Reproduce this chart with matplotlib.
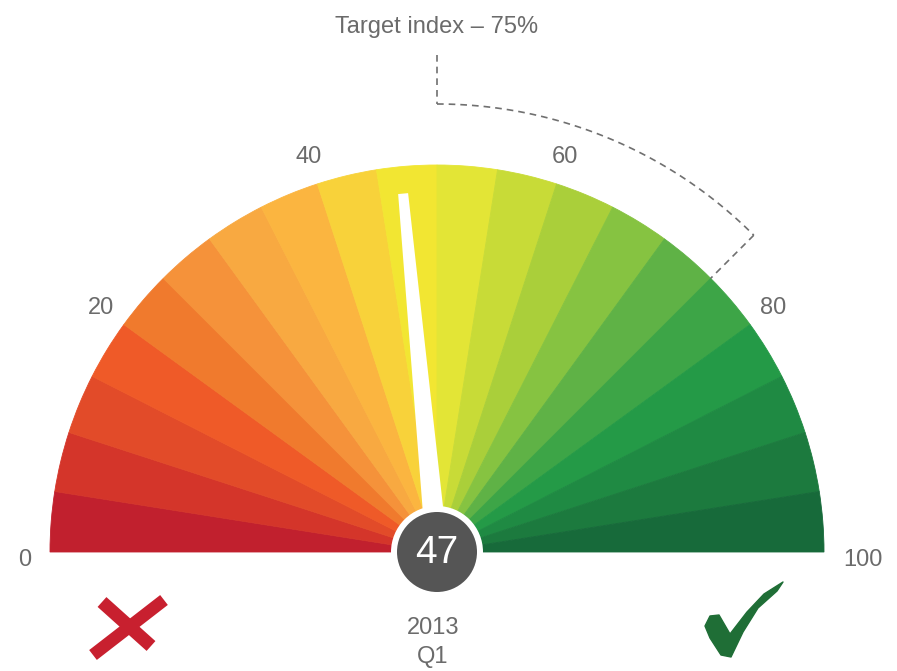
import numpy as np
import matplotlib
matplotlib.use("Agg")
import matplotlib.pyplot as plt
from matplotlib.patches import Wedge, Circle, Polygon

# gauge data
band_colors = [
    "#C1202E", "#D4352A", "#E24B29", "#EF5A28", "#F07A2D",
    "#F5923A", "#F8A941", "#FBB540", "#F8D23A", "#F2E632",
    "#E3E536", "#C8DB37", "#AACF3A", "#86C341", "#5FB246",
    "#3DA547", "#249A47", "#1F8A43", "#1C7A3E", "#176A3A",
]
tick_values = [0, 20, 40, 60, 80, 100]
current_value = 47
target_value = 75
title_text = "Target index \u2013 75%"
period_year = "2013"
period_quarter = "Q1"

W, H = 897, 671
cx, cy = 437, H - 552
R = 387
grey = "#6b6b6b"

plt.rcParams['font.family'] = ['Liberation Sans', 'DejaVu Sans']


def angle_of(v):
    # value 0 on the left, 100 on the right
    return 180.0 - v * 1.8


def point(v, r):
    a = np.deg2rad(angle_of(v))
    return cx + r * np.cos(a), cy + r * np.sin(a)


fig = plt.figure(figsize=(W / 100, H / 100), dpi=100)
ax = fig.add_axes([0, 0, 1, 1])
ax.set_xlim(0, W)
ax.set_ylim(0, H)
ax.set_aspect('equal')
ax.axis('off')

# coloured bands
step = 100 / len(band_colors)
for i, c in enumerate(band_colors):
    t2 = angle_of(i * step)
    t1 = angle_of((i + 1) * step)
    ax.add_patch(Wedge((cx, cy), R, t1, t2, facecolor=c, edgecolor=c, linewidth=0.6))

# tick labels
for v in tick_values:
    if v in (0, 100):
        x, y = point(v, 406)
        ax.text(x, y - 8, str(v), ha='right' if v == 0 else 'left', va='center',
                fontsize=17, color=grey)
    else:
        x, y = point(v, 415)
        ax.text(x, y, str(v), ha='center', va='center', fontsize=17, color=grey)

# target marker (dashed bracket)
r_out = 448
dash = dict(color='#707070', linewidth=1.2, linestyle=(0, (4, 3)))
ax.plot([cx, cx], [H - 55, cy + r_out], **dash)
arc_v = np.linspace(50, target_value, 60)
arc = np.array([point(v, r_out) for v in arc_v])
ax.plot(arc[:, 0], arc[:, 1], **dash)
p1 = point(target_value, r_out)
p2 = point(target_value, R)
ax.plot([p1[0], p2[0]], [p1[1], p2[1]], **dash)
ax.text(cx, H - 27, title_text, ha='center', va='center', fontsize=17, color=grey)

# needle
a = np.deg2rad(angle_of(current_value))
d = np.array([np.cos(a), np.sin(a)])
n = np.array([-d[1], d[0]])
c0 = np.array([cx, cy])
tip = c0 + d * 360
needle = [c0 + n * 11, tip + n * 5, tip - n * 5, c0 - n * 11]
ax.add_patch(Polygon(needle, closed=True, facecolor='white', edgecolor='none'))

# hub
ax.add_patch(Circle((cx, cy), 46, facecolor='white', edgecolor='none', zorder=3))
ax.add_patch(Circle((cx, cy), 40, facecolor='#555555', edgecolor='none', zorder=4))
ax.text(cx, cy - 1, str(current_value), ha='center', va='center', fontsize=28,
        color='white', zorder=5)

ax.text(cx - 4, H - 628, period_year, ha='center', va='center', fontsize=17, color=grey)
ax.text(cx - 4, H - 657, period_quarter, ha='center', va='center', fontsize=17, color=grey)

# cross icon
red = "#C8202F"
ax.plot([102, 151], [H - 602, H - 646], color=red, linewidth=9.5, solid_capstyle='butt')
ax.plot([164, 93], [H - 600, H - 655], color=red, linewidth=9.0, solid_capstyle='butt')

# tick icon
green = "#1F6E36"
check = [(705, 626), (710, 616), (719, 615), (730, 634), (747, 612), (764, 594),
         (783, 582), (777, 591), (758, 608), (743, 632), (731, 657), (721, 655),
         (710, 638)]
ax.add_patch(Polygon([(x, H - y) for x, y in check], closed=True,
                     facecolor=green, edgecolor=green, linewidth=1, joinstyle='round'))

fig.savefig("out.png", dpi=100, facecolor='white')
